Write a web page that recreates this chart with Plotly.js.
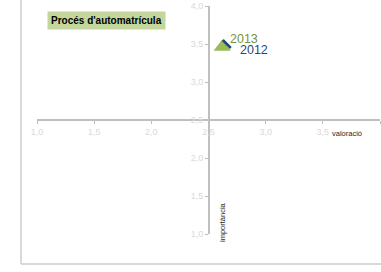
<!DOCTYPE html>
<html>
<head>
<meta charset="utf-8">
<script src="https://cdn.plot.ly/plotly-3.0.1.min.js"></script>
<style>html,body{margin:0;padding:0;background:#fff;}#chart{width:381px;height:272px;}</style>
</head>
<body>
<div id="chart"></div>
<script>
var years = ['2012', '2013'];
var valoracio = [2.66, 2.62];
var importancia = [3.50, 3.46];
var tickVals = [1.0, 1.5, 2.0, 2.5, 3.0, 3.5, 4.0];
var chartTitle = "Procés d'automatrícula";
var xLabel = 'valoració';
var yLabel = 'importància';

var font = 'Liberation Sans, Arial, sans-serif';

var traces = [
  {
    type: 'scatter', mode: 'markers', name: years[1],
    x: [valoracio[1]], y: [importancia[1]],
    marker: {symbol: 'triangle-up', size: 15, color: '#9bbb59'},
    cliponaxis: false
  },
  {
    type: 'scatter', mode: 'markers', name: years[0],
    x: [valoracio[0]], y: [importancia[0]],
    marker: {symbol: 'line-nw', size: 8, color: '#1f497d', line: {color: '#1f497d', width: 2.5}},
    cliponaxis: false
  }
];

var axisCommon = {
  range: [1, 4],
  tickvals: tickVals,
  tickformat: '.1f',
  showgrid: false,
  zeroline: false,
  showline: true,
  linecolor: '#bfbfbf',
  linewidth: 2,
  ticks: 'outside',
  ticklen: 3,
  tickwidth: 1,
  tickcolor: '#bfbfbf',
  tickfont: {family: font, size: 9, color: '#d9d9d9'},
  automargin: false,
  fixedrange: true
};

var layout = {
  width: 381, height: 272,
  margin: {l: 0, r: 0, t: 0, b: 0, pad: 0},
  paper_bgcolor: '#ffffff', plot_bgcolor: 'rgba(0,0,0,0)',
  separators: ', ',
  showlegend: false,
  xaxis: Object.assign({}, axisCommon, {
    domain: [37/381, 380/381],
    anchor: 'free',
    position: (272-120)/272
  }),
  yaxis: Object.assign({}, axisCommon, {
    domain: [(272-234)/272, (272-6)/272],
    anchor: 'free',
    position: 209/381
  }),
  shapes: [
    {type: 'line', xref: 'paper', yref: 'paper', x0: 21/381, x1: 21/381, y0: (272-264)/272, y1: 1.02, line: {color: '#d9d9d9', width: 2}},
    {type: 'line', xref: 'paper', yref: 'paper', x0: 21/381, x1: 1.02, y0: (272-264)/272, y1: (272-264)/272, line: {color: '#d9d9d9', width: 2}}
  ],
  annotations: [
    {xref: 'paper', yref: 'paper', x: 106/381, y: (272-20.5)/272, xanchor: 'center', yanchor: 'middle',
     text: '<b>' + chartTitle + '</b>', showarrow: false, bgcolor: '#c3d69b', borderpad: 3,
     font: {family: font, size: 10, color: '#000000'}},
    {xref: 'x', yref: 'y', x: valoracio[1], y: importancia[1], xanchor: 'left', yanchor: 'middle',
     xshift: 6, yshift: 8, text: years[1], showarrow: false,
     font: {family: font, size: 12.5, color: '#76923c'}},
    {xref: 'x', yref: 'y', x: valoracio[0], y: importancia[0], xanchor: 'left', yanchor: 'middle',
     xshift: 11, yshift: -6, text: years[0], showarrow: false,
     font: {family: font, size: 12.5, color: '#1f497d'}},
    {xref: 'paper', yref: 'paper', x: 347/381, y: (272-133)/272, xanchor: 'center', yanchor: 'middle',
     text: xLabel, showarrow: false, font: {family: font, size: 7.5, color: '#262626'}},
    {xref: 'paper', yref: 'paper', x: 222/381, y: (272-222)/272, xanchor: 'center', yanchor: 'middle',
     text: yLabel, textangle: -90, showarrow: false, font: {family: font, size: 7.5, color: '#262626'}}
  ]
};

Plotly.newPlot('chart', traces, layout, {displayModeBar: false, staticPlot: true});
</script>
</body>
</html>
